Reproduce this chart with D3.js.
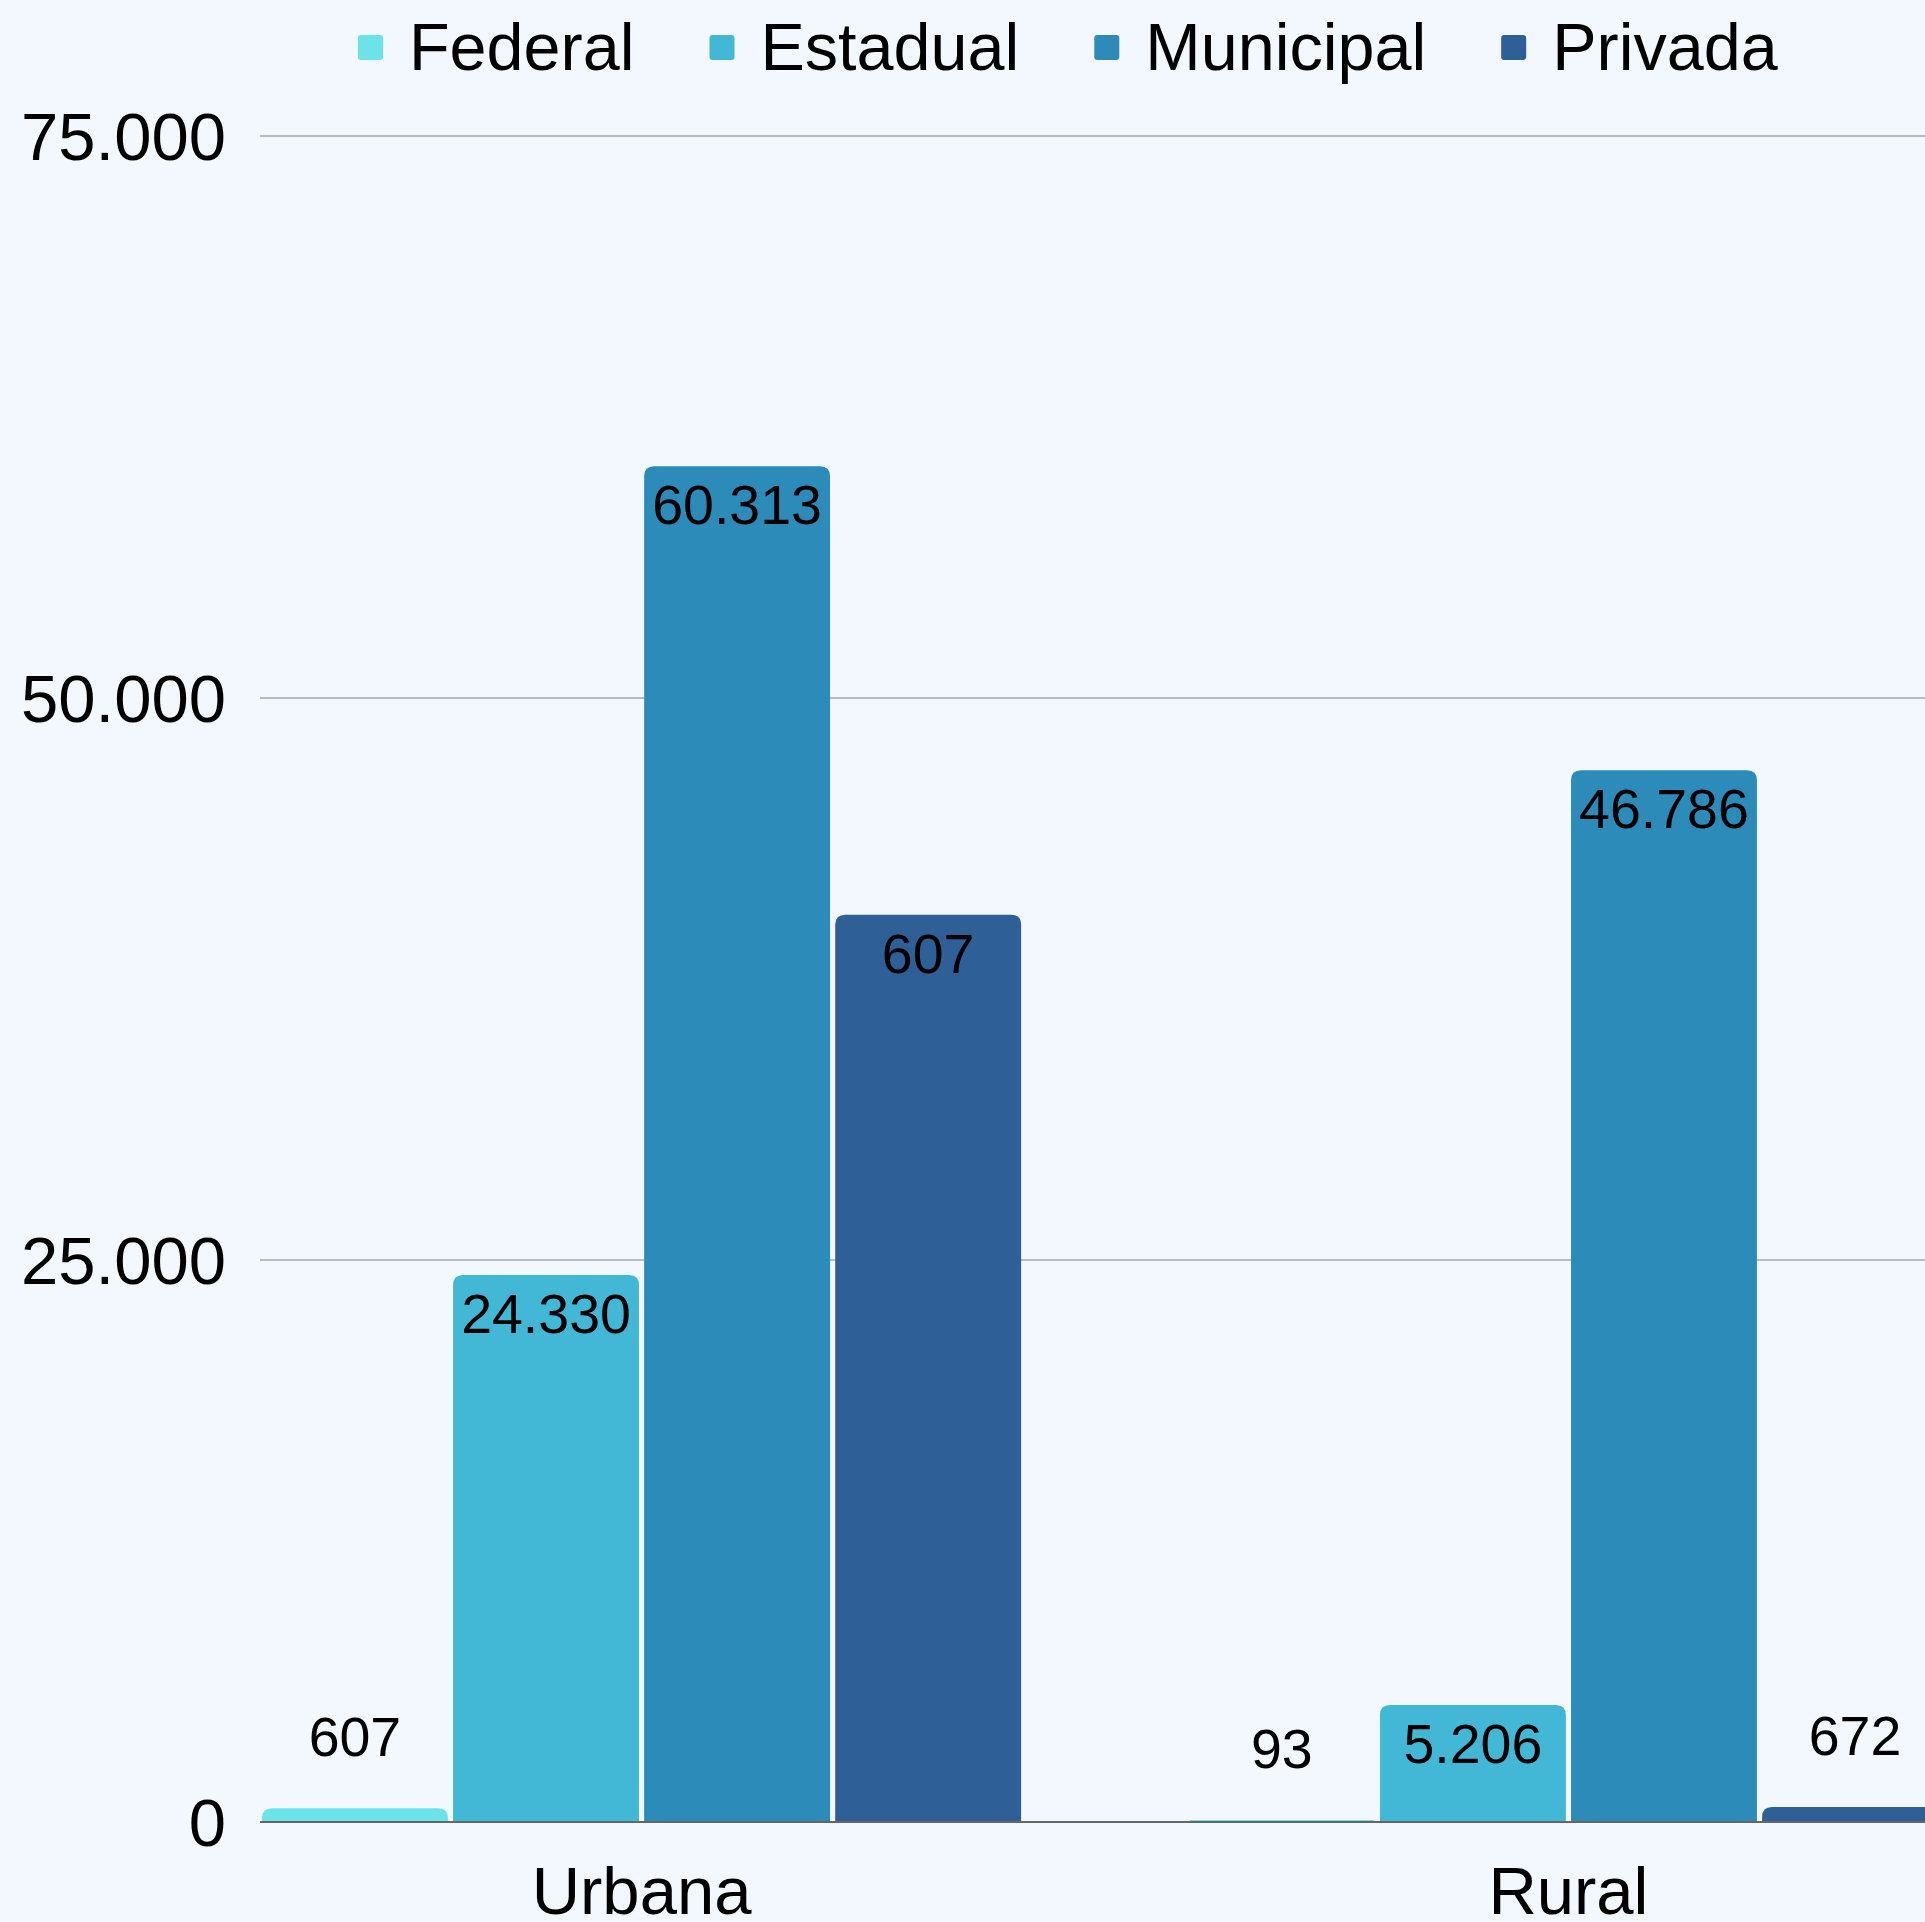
<!DOCTYPE html>
<html><head><meta charset="utf-8">
<script src="https://cdn.jsdelivr.net/npm/d3@7"></script>
<style>
html,body{margin:0;padding:0;background:#f2f8fe;overflow:hidden;}
svg{display:block;font-family:"Liberation Sans",Arial,sans-serif;}
</style></head><body>
<div id="chart"></div>
<script>
const categories = ["Urbana", "Rural"];
const seriesNames = ["Federal", "Estadual", "Municipal", "Privada"];
const federal = [607, 93];
const estadual = [24330, 5206];
const municipal = [60313, 46786];
const privada = [40360, 672];
const labelsFederal = ["607", "93"];
const labelsEstadual = ["24.330", "5.206"];
const labelsMunicipal = ["60.313", "46.786"];
const labelsPrivada = ["607", "672"];
const yTicks = [0, 25000, 50000, 75000];
const colors = ["#6be3e8", "#42b8d6", "#2d8bba", "#2e5f97"];

const W = 1925, H = 1922;
const values = [federal, estadual, municipal, privada];
const labels = [labelsFederal, labelsEstadual, labelsMunicipal, labelsPrivada];
const data = categories.map((c, i) => ({
  cat: c,
  bars: seriesNames.map((s, j) => ({ s, v: values[j][i], label: labels[j][i], color: colors[j] }))
}));

const svg = d3.select("#chart").append("svg").attr("width", W).attr("height", H);
svg.append("rect").attr("width", W).attr("height", H).attr("fill", "#f2f8fe");

const plotLeft = 260, plotRight = 2100;
const y = d3.scaleLinear().domain([0, 75000]).range([1822, 136]);
const x0 = d3.scaleBand().domain(categories).range([262, 1948]).paddingInner(0.181).paddingOuter(0);
const x1 = d3.scaleBand().domain(seriesNames).range([0, x0.bandwidth()]).paddingInner(0.027).paddingOuter(0);

const fmt = v => d3.format(",")(v).replace(/,/g, ".");

// grid
const grid = svg.append("g");
grid.selectAll("line").data(yTicks.filter(t => t > 0)).join("line")
  .attr("x1", plotLeft).attr("x2", plotRight)
  .attr("y1", d => y(d)).attr("y2", d => y(d))
  .attr("stroke", "#b8bcc0").attr("stroke-width", 2);

// y labels
svg.append("g").selectAll("text").data(yTicks).join("text")
  .attr("x", 226).attr("y", d => y(d))
  .attr("text-anchor", "end").attr("dominant-baseline", "central")
  .attr("font-size", 67).attr("fill", "#000")
  .text(fmt);

// bars
const r = 10;
function barPath(x, yTop, w, yBot) {
  const h = yBot - yTop;
  const rr = Math.min(r, h, w / 2);
  return `M${x},${yBot} L${x},${yTop + rr} Q${x},${yTop} ${x + rr},${yTop} L${x + w - rr},${yTop} Q${x + w},${yTop} ${x + w},${yTop + rr} L${x + w},${yBot} Z`;
}
const groups = svg.append("g").selectAll("g").data(data).join("g")
  .attr("transform", d => `translate(${x0(d.cat)},0)`);
groups.selectAll("path").data(d => d.bars).join("path")
  .attr("d", d => barPath(x1(d.s), y(d.v), x1.bandwidth(), y(0)))
  .attr("fill", d => d.color);

// axis line
svg.append("line").attr("x1", plotLeft).attr("x2", plotRight)
  .attr("y1", y(0)).attr("y2", y(0))
  .attr("stroke", "#666").attr("stroke-width", 2);

// data labels
groups.selectAll("text.dl").data(d => d.bars).join("text")
  .attr("class", "dl")
  .attr("x", d => x1(d.s) + x1.bandwidth() / 2)
  .attr("y", d => (y(0) - y(d.v) > 100) ? y(d.v) + 58 : y(d.v) - 52)
  .attr("text-anchor", "middle")
  .attr("font-size", 55.5).attr("fill", "#000")
  .text(d => d.label);

// category labels
svg.append("g").selectAll("text").data(categories).join("text")
  .attr("x", d => x0(d) + x0.bandwidth() / 2)
  .attr("y", 1914)
  .attr("text-anchor", "middle")
  .attr("font-size", 67).attr("fill", "#000")
  .text(d => d);

// legend
const leg = svg.append("g");
let lx = 358;
seriesNames.forEach((s, i) => {
  leg.append("rect").attr("x", lx).attr("y", 35).attr("width", 25).attr("height", 25)
    .attr("rx", 3).attr("fill", colors[i]);
  const t = leg.append("text").attr("x", lx + 51).attr("y", 70)
    .attr("font-size", 66.5).attr("fill", "#000").text(s);
  lx += 51 + t.node().getComputedTextLength() + 75;
});
</script>
</body></html>
